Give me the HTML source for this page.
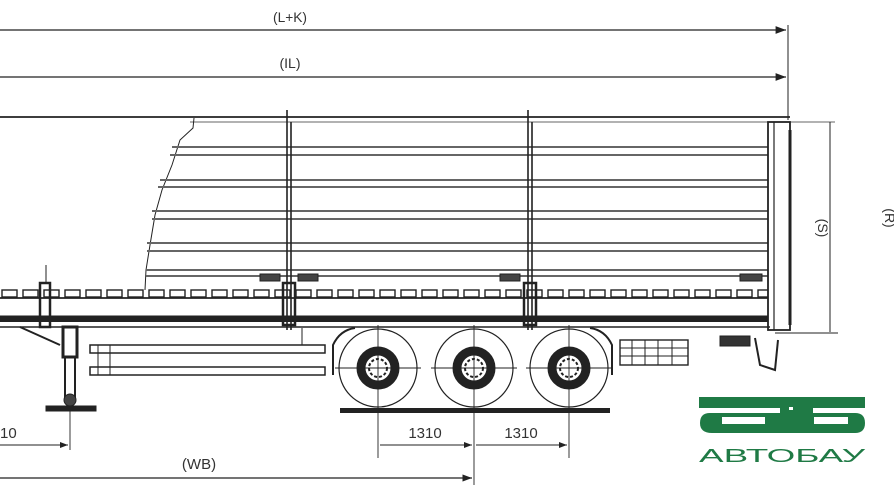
<!DOCTYPE html>
<html><head><meta charset="utf-8"><style>
html,body{margin:0;padding:0;background:#fff;width:894px;height:490px;overflow:hidden}
svg{display:block}
text{font-family:"Liberation Sans",sans-serif;fill:#333}
</style></head><body>
<svg width="894" height="490" viewBox="0 0 894 490" xmlns="http://www.w3.org/2000/svg">
<defs>
<marker id="a" markerWidth="8" markerHeight="6" refX="8" refY="3" orient="auto"><path d="M0,0 L8,3 L0,6z" fill="#222"/></marker>
<pattern id="sq" x="0" y="289" width="21" height="9" patternUnits="userSpaceOnUse"><rect x="2" y="1" width="15" height="7" fill="none" stroke="#222" stroke-width="1.4"/></pattern>
</defs>
<g stroke="#222" fill="none">
<line x1="0" y1="30" x2="786" y2="30" stroke-width="1.3" marker-end="url(#a)"/>
<line x1="0" y1="77" x2="786" y2="77" stroke-width="1.3" marker-end="url(#a)"/>
<line x1="788" y1="25" x2="788" y2="120" stroke-width="1"/>
<line x1="0" y1="117" x2="790" y2="117" stroke-width="1.8"/>
<line x1="190" y1="122" x2="835" y2="122" stroke-width="1" stroke="#666"/>
<path d="M194,118 L193,128 L180,140 L172,165 L162,190 L155,215 L150,245 L146,270 L145,290" stroke-width="1"/>
<g stroke-width="2" stroke="#666">
<line x1="172" y1="147" x2="768" y2="147"/><line x1="170" y1="155" x2="768" y2="155"/>
<line x1="160" y1="180" x2="768" y2="180"/><line x1="158" y1="187" x2="768" y2="187"/>
<line x1="152" y1="211" x2="768" y2="211"/><line x1="152" y1="219" x2="768" y2="219"/>
<line x1="147" y1="243" x2="768" y2="243"/><line x1="147" y1="251" x2="768" y2="251"/>
<line x1="146" y1="270" x2="768" y2="270"/><line x1="146" y1="276" x2="768" y2="276"/>
</g>
<g stroke-width="1.6">
<line x1="287" y1="110" x2="287" y2="330"/><line x1="291" y1="122" x2="291" y2="330"/>
<line x1="528" y1="110" x2="528" y2="330"/><line x1="532" y1="122" x2="532" y2="330"/>
</g>
<rect x="283" y="283" width="12" height="42" stroke-width="2.5"/>
<rect x="524" y="283" width="12" height="42" stroke-width="2.5"/>
<rect x="260" y="274" width="20" height="7" fill="#444"/><rect x="298" y="274" width="20" height="7" fill="#444"/>
<rect x="500" y="274" width="20" height="7" fill="#444"/><rect x="740" y="274" width="22" height="7" fill="#444"/>
<rect x="768" y="122" width="22" height="208" stroke-width="1.8"/>
<line x1="774" y1="122" x2="774" y2="330" stroke-width="1.2"/>
<line x1="790" y1="130" x2="790" y2="325" stroke-width="3"/>
<line x1="830" y1="122" x2="830" y2="332" stroke-width="1"/>
<line x1="775" y1="333" x2="838" y2="333" stroke-width="1"/>
<rect x="0" y="289" width="768" height="9" fill="url(#sq)" stroke="none"/>
<line x1="0" y1="298" x2="768" y2="298" stroke-width="1.8"/>
<line x1="0" y1="316" x2="768" y2="316" stroke-width="1"/>
<rect x="0" y="316" width="768" height="6" fill="#222" stroke="none"/>
<line x1="0" y1="327" x2="770" y2="327" stroke-width="1.5"/>
<rect x="40" y="283" width="10" height="44" stroke-width="2.5"/>
<line x1="46" y1="265" x2="46" y2="283"/>
<path d="M20,327 L60,345" stroke-width="2"/>
<rect x="63" y="327" width="14" height="30" stroke-width="3"/>
<rect x="65" y="357" width="10" height="40" stroke-width="2"/>
<rect x="46" y="406" width="50" height="5" fill="#222"/>
<circle cx="70" cy="400" r="6" fill="#444"/>
<rect x="90" y="345" width="235" height="8" stroke-width="1.5"/>
<rect x="90" y="367" width="235" height="8" stroke-width="1.5"/>
<line x1="98" y1="345" x2="98" y2="375"/><line x1="110" y1="345" x2="110" y2="375"/>
<line x1="302" y1="328" x2="302" y2="345"/>
<path d="M333,375 L333,345 Q340,330 355,328" stroke-width="2"/>
<path d="M612,375 L612,345 Q605,330 590,328" stroke-width="2"/>
<g>
<circle cx="378" cy="368" r="39" stroke-width="1.2"/>
<circle cx="474" cy="368" r="39" stroke-width="1.2"/>
<circle cx="569" cy="368" r="39" stroke-width="1.2"/>
<circle cx="378" cy="368" r="17" stroke-width="9"/>
<circle cx="474" cy="368" r="17" stroke-width="9"/>
<circle cx="569" cy="368" r="17" stroke-width="9"/>
<circle cx="378" cy="368" r="9" stroke-width="2" stroke-dasharray="3 2"/>
<circle cx="474" cy="368" r="9" stroke-width="2" stroke-dasharray="3 2"/>
<circle cx="569" cy="368" r="9" stroke-width="2" stroke-dasharray="3 2"/>
</g>
<g stroke-width="0.9">
<line x1="378" y1="325" x2="378" y2="458"/><line x1="335" y1="368" x2="421" y2="368"/>
<line x1="474" y1="325" x2="474" y2="485"/><line x1="431" y1="368" x2="517" y2="368"/>
<line x1="569" y1="325" x2="569" y2="458"/><line x1="526" y1="368" x2="612" y2="368"/>
<line x1="70" y1="410" x2="70" y2="450"/>
</g>
<rect x="340" y="408" width="270" height="5" fill="#222" stroke="none"/>
<rect x="620" y="340" width="68" height="25" stroke-width="1.4"/>
<g stroke-width="1"><line x1="620" y1="348" x2="688" y2="348"/><line x1="620" y1="356" x2="688" y2="356"/>
<line x1="632" y1="340" x2="632" y2="365"/><line x1="645" y1="340" x2="645" y2="365"/><line x1="658" y1="340" x2="658" y2="365"/><line x1="672" y1="340" x2="672" y2="365"/></g>
<rect x="720" y="336" width="30" height="10" fill="#333"/>
<path d="M755,338 L760,365 L775,370 L778,340" stroke-width="2"/>
<line x1="0" y1="445" x2="68" y2="445" stroke-width="1" marker-end="url(#a)"/>
<line x1="380" y1="445" x2="472" y2="445" stroke-width="1" marker-end="url(#a)"/>
<line x1="476" y1="445" x2="567" y2="445" stroke-width="1" marker-end="url(#a)"/>
<line x1="0" y1="478" x2="472" y2="478" stroke-width="1.2" marker-end="url(#a)"/>
</g>
<text x="290" y="22" font-size="14" text-anchor="middle" textLength="34" lengthAdjust="spacingAndGlyphs">(L+K)</text>
<text x="290" y="68" font-size="14" text-anchor="middle">(IL)</text>
<text x="818" y="228" font-size="14" text-anchor="middle" transform="rotate(90 818 228)">(S)</text>
<text x="885" y="218" font-size="14" text-anchor="middle" transform="rotate(90 885 218)">(R)</text>
<text x="0" y="438" font-size="15">10</text>
<text x="425" y="438" font-size="15" text-anchor="middle">1310</text>
<text x="521" y="438" font-size="15" text-anchor="middle">1310</text>
<text x="199" y="469" font-size="15" text-anchor="middle">(WB)</text>
<g fill="#1f7a45">
<rect x="699" y="397" width="166" height="11"/>
<path d="M710,413 L780,413 L780,433 L712,433 Q700,433 700,423 Q700,413 710,413z"/>
<rect x="780" y="406" width="33" height="27"/>
<path d="M808,413 L855,413 Q865,413 865,423 Q865,433 855,433 L808,433z"/>
</g>
<g fill="#fff">
<rect x="722" y="417" width="43" height="7"/>
<rect x="814" y="417" width="34" height="7"/>
<rect x="789" y="407" width="4" height="3"/>
</g>
<text x="782" y="462" font-size="18" text-anchor="middle" textLength="166" lengthAdjust="spacingAndGlyphs" style="fill:#1f7a45;font-family:'Liberation Sans','DejaVu Sans',sans-serif">АВТОБАУ</text>
</svg>
</body></html>
